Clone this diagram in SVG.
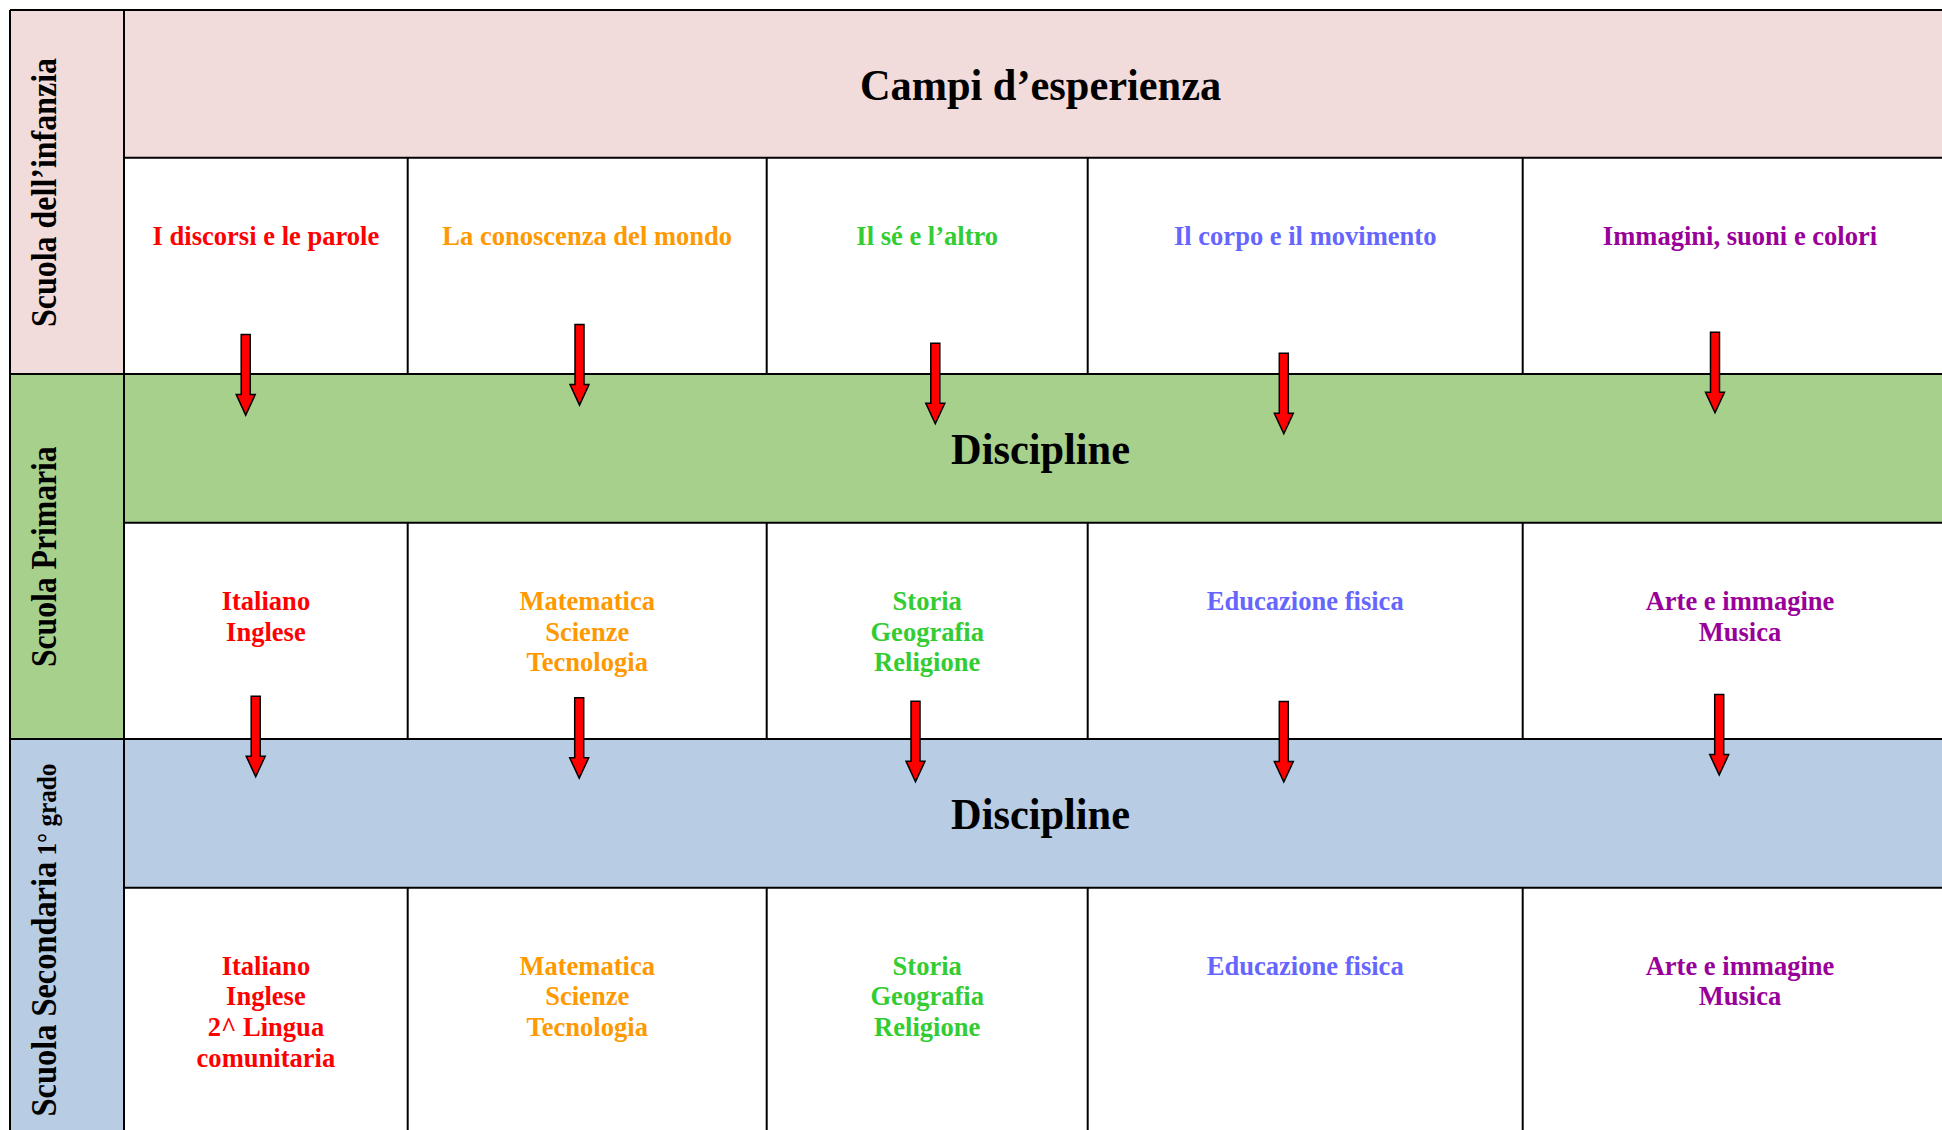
<svg xmlns="http://www.w3.org/2000/svg" xmlns:xlink="http://www.w3.org/1999/xlink" width="1942" height="1130" viewBox="0 0 1942 1130">
<style>
.ln{stroke:#000;stroke-width:2;fill:none}
.pink{fill:#F2DCDB}
.green{fill:#A8D08D}
.blue{fill:#B8CCE4}
.t{font-family:"Liberation Serif","Times New Roman",serif;font-weight:bold;text-anchor:middle}
.row{font-size:27.6px}
.big{font-size:44px;fill:#000}
.lab{font-size:36px;fill:#000}
.c1{fill:#FF0000}
.c2{fill:#FF9900}
.c3{fill:#33CC33}
.c4{fill:#6666FF}
.c5{fill:#990099}
.arrow{fill:#FF0000;stroke:#000;stroke-width:1.5;stroke-linejoin:miter}
</style>
<defs>
<path id="arr" d="M-4.5 0H4.5V60H9.5L0 80.5L-9.5 60H-4.5Z"/>
</defs>
<rect x="0" y="0" width="1942" height="1130" fill="#FFFFFF"/>

<g id="label-infanzia">
<rect class="pink" x="10" y="10" width="114" height="364"/>
<text class="t lab" transform="translate(56 192.5) rotate(-90) scale(0.888 1)">Scuola dell’infanzia</text>
</g>
<g id="label-primaria">
<rect class="green" x="10" y="374" width="114" height="365"/>
<text class="t lab" transform="translate(56 556.7) rotate(-90) scale(0.88 1)">Scuola Primaria</text>
</g>
<g id="label-secondaria">
<rect class="blue" x="10" y="739" width="114" height="391"/>
<text class="t lab" transform="translate(56 940) rotate(-90) scale(0.9 1)">Scuola Secondaria<tspan font-size="28px"> 1° grado</tspan></text>
</g>

<g id="header-campi">
<rect class="pink" x="124" y="10" width="1818" height="147.7"/>
<text class="t big" transform="translate(1040.5 100) scale(0.963 1)">Campi d’esperienza</text>
</g>
<g id="band-discipline-primaria">
<rect class="green" x="124" y="374" width="1818" height="148.7"/>
<text class="t big" transform="translate(1040.5 464) scale(0.963 1)">Discipline</text>
</g>
<g id="band-discipline-secondaria">
<rect class="blue" x="124" y="739" width="1818" height="148.7"/>
<text class="t big" transform="translate(1040.5 829) scale(0.963 1)">Discipline</text>
</g>

<g id="grid">
<path class="ln" d="M10 10H1942M10 10V1130M124 10V1130M124 157.7H1942M10 374H1942M124 522.7H1942M10 739H1942M124 887.7H1942"/>
<path class="ln" d="M407.7 157.7V374M766.7 157.7V374M1087.7 157.7V374M1522.7 157.7V374"/>
<path class="ln" d="M407.7 522.7V739M766.7 522.7V739M1087.7 522.7V739M1522.7 522.7V739"/>
<path class="ln" d="M407.7 887.7V1130M766.7 887.7V1130M1087.7 887.7V1130M1522.7 887.7V1130"/>
</g>

<g id="campi-1"><text class="t row c1" transform="translate(265.9 245) scale(0.962 1)">I discorsi e le parole</text></g>
<g id="campi-2"><text class="t row c2" transform="translate(587.2 245) scale(0.962 1)">La conoscenza del mondo</text></g>
<g id="campi-3"><text class="t row c3" transform="translate(927.2 245) scale(0.962 1)">Il sé e l’altro</text></g>
<g id="campi-4"><text class="t row c4" transform="translate(1305.2 245) scale(0.962 1)">Il corpo e il movimento</text></g>
<g id="campi-5"><text class="t row c5" transform="translate(1740 245) scale(0.962 1)">Immagini, suoni e colori</text></g>

<g id="primaria-1"><text class="t row c1" transform="translate(265.9 610) scale(0.962 1)"><tspan x="0" y="0">Italiano</tspan><tspan x="0" y="30.7">Inglese</tspan></text></g>
<g id="primaria-2"><text class="t row c2" transform="translate(587.2 610) scale(0.962 1)"><tspan x="0" y="0">Matematica</tspan><tspan x="0" y="30.7">Scienze</tspan><tspan x="0" y="61.4">Tecnologia</tspan></text></g>
<g id="primaria-3"><text class="t row c3" transform="translate(927.2 610) scale(0.962 1)"><tspan x="0" y="0">Storia</tspan><tspan x="0" y="30.7">Geografia</tspan><tspan x="0" y="61.4">Religione</tspan></text></g>
<g id="primaria-4"><text class="t row c4" transform="translate(1305.2 610) scale(0.962 1)">Educazione fisica</text></g>
<g id="primaria-5"><text class="t row c5" transform="translate(1740 610) scale(0.962 1)"><tspan x="0" y="0">Arte e immagine</tspan><tspan x="0" y="30.7">Musica</tspan></text></g>

<g id="secondaria-1"><text class="t row c1" transform="translate(265.9 974.5) scale(0.962 1)"><tspan x="0" y="0">Italiano</tspan><tspan x="0" y="30.7">Inglese</tspan><tspan x="0" y="61.4">2^ Lingua</tspan><tspan x="0" y="92.1">comunitaria</tspan></text></g>
<g id="secondaria-2"><text class="t row c2" transform="translate(587.2 974.5) scale(0.962 1)"><tspan x="0" y="0">Matematica</tspan><tspan x="0" y="30.7">Scienze</tspan><tspan x="0" y="61.4">Tecnologia</tspan></text></g>
<g id="secondaria-3"><text class="t row c3" transform="translate(927.2 974.5) scale(0.962 1)"><tspan x="0" y="0">Storia</tspan><tspan x="0" y="30.7">Geografia</tspan><tspan x="0" y="61.4">Religione</tspan></text></g>
<g id="secondaria-4"><text class="t row c4" transform="translate(1305.2 974.5) scale(0.962 1)">Educazione fisica</text></g>
<g id="secondaria-5"><text class="t row c5" transform="translate(1740 974.5) scale(0.962 1)"><tspan x="0" y="0">Arte e immagine</tspan><tspan x="0" y="30.7">Musica</tspan></text></g>

<g id="connectors">
<use class="arrow" href="#arr" xlink:href="#arr" x="245.7" y="334.6"/>
<use class="arrow" href="#arr" xlink:href="#arr" x="579.5" y="324.6"/>
<use class="arrow" href="#arr" xlink:href="#arr" x="935.3" y="343.2"/>
<use class="arrow" href="#arr" xlink:href="#arr" x="1283.8" y="353.2"/>
<use class="arrow" href="#arr" xlink:href="#arr" x="1715" y="332.2"/>
<use class="arrow" href="#arr" xlink:href="#arr" x="255.7" y="696.2"/>
<use class="arrow" href="#arr" xlink:href="#arr" x="579.2" y="697.8"/>
<use class="arrow" href="#arr" xlink:href="#arr" x="915.5" y="701.2"/>
<use class="arrow" href="#arr" xlink:href="#arr" x="1283.8" y="701.5"/>
<use class="arrow" href="#arr" xlink:href="#arr" x="1719.2" y="694.5"/>
</g>
</svg>
